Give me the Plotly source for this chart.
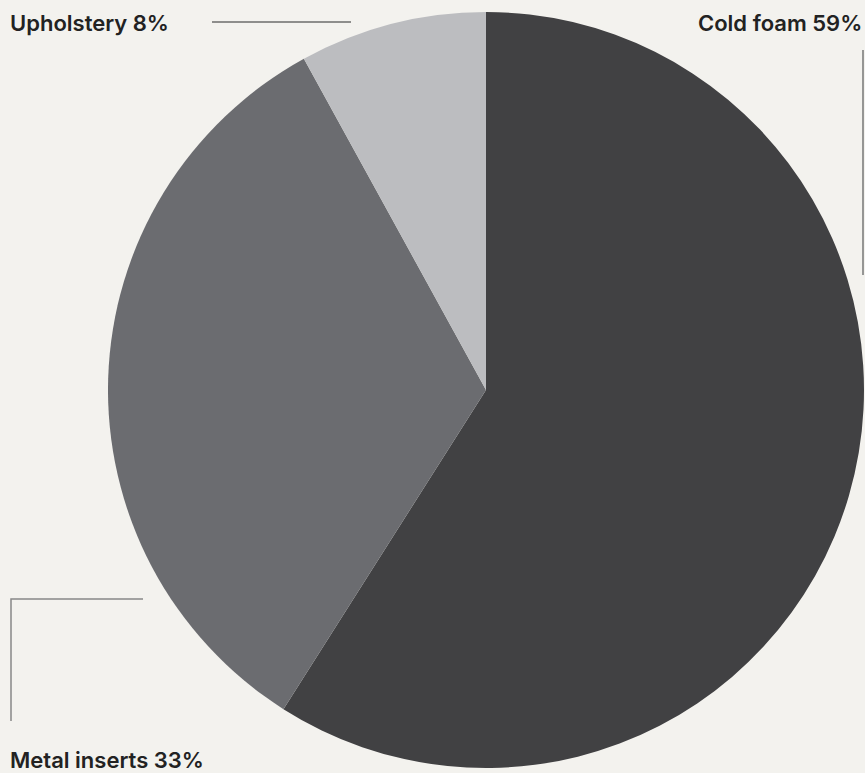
import plotly.graph_objects as go

labels = ["Cold foam", "Metal inserts", "Upholstery"]
values = [59, 33, 8]
colors = ["#414143", "#6b6c70", "#bcbdc0"]

W, H = 865, 773
BG = "#f3f2ee"

def px(x):
    return x / W

def py(y):
    return 1 - y / H

fig = go.Figure(go.Pie(
    labels=labels, values=values, sort=False, direction="clockwise", rotation=0,
    marker=dict(colors=colors, line=dict(width=0)),
    textinfo="none", hoverinfo="label+percent", showlegend=False,
    domain=dict(x=[px(108), px(864)], y=[py(768), py(12)]),
))

font = dict(family="Inter, Roboto, sans-serif", size=22, color="#222222", weight=600)
ann = [
    dict(text=f"{labels[2]} {values[2]}%", x=px(8), y=py(23), xanchor="left", yanchor="middle"),
    dict(text=f"{labels[0]} {values[0]}%", x=px(864), y=py(23), xanchor="right", yanchor="middle"),
    dict(text=f"{labels[1]} {values[1]}%", x=px(8), y=py(760), xanchor="left", yanchor="middle"),
]
for a in ann:
    a.update(xref="paper", yref="paper", showarrow=False, font=font)

shapes = [
    dict(type="line", x0=px(212), x1=px(351), y0=py(22), y1=py(22), line=dict(color="#2a2a2a", width=1.2)),
    dict(type="line", x0=px(863), x1=px(863), y0=py(50), y1=py(275), line=dict(color="#777777", width=1.5)),
    dict(type="path", path=f"M {px(143)} {py(599)} L {px(11)} {py(599)} L {px(11)} {py(721)}",
         line=dict(color="#888888", width=1.5)),
]
for s in shapes:
    s.update(xref="paper", yref="paper")

fig.update_layout(
    width=W, height=H, paper_bgcolor=BG, plot_bgcolor=BG,
    margin=dict(l=0, r=0, t=0, b=0),
    annotations=ann, shapes=shapes,
)
fig.write_html(
    "out.html",
    config={"displayModeBar": False},
    post_script="document.body.style.margin='0';document.body.style.overflow='hidden';",
)
